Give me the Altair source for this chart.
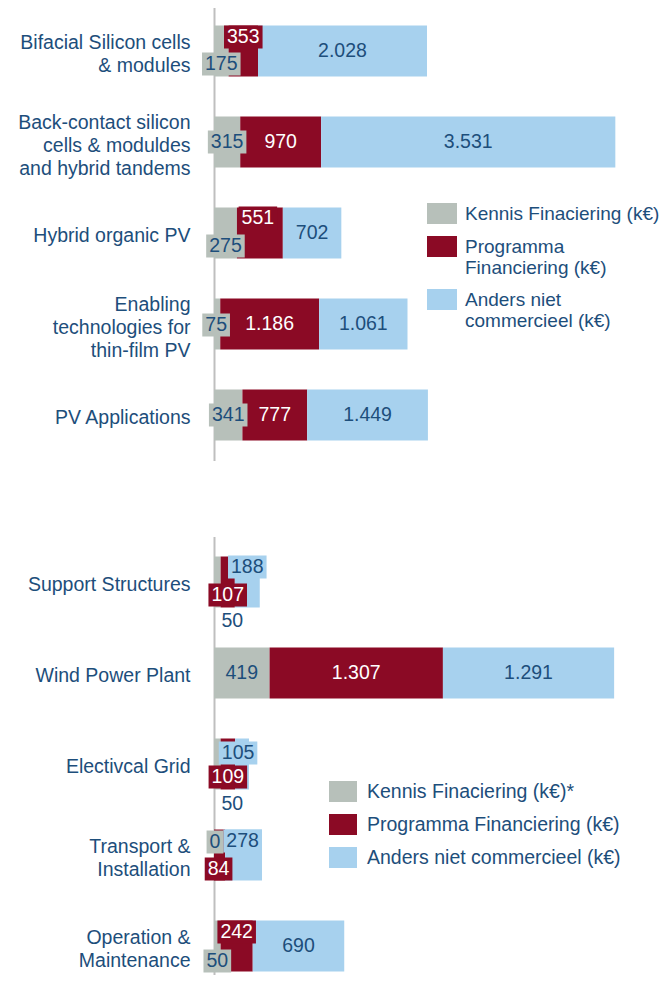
import altair as alt
import pandas as pd

FONT = "Liberation Sans"
TEXT = "#1D4E7B"
COLORS = ["#B7C0BA", "#8B0A25", "#A7D1EE"]
FS = 19.5
LFS = 19

# ---------------- data ----------------
pv_series = ["Kennis Finaciering (k€)", "Programma|Financiering (k€)", "Anders niet|commercieel (k€)"]
pv_categories = [
    "Bifacial Silicon cells|& modules",
    "Back-contact silicon|cells & moduldes|and hybrid tandems",
    "Hybrid organic PV",
    "Enabling|technologies for|thin-film PV",
    "PV Applications",
]
pv_kennis = [175, 315, 275, 75, 341]
pv_programma = [353, 970, 551, 1186, 777]
pv_anders = [2028, 3531, 702, 1061, 1449]

wind_series = ["Kennis Finaciering (k€)*", "Programma Financiering (k€)", "Anders niet commercieel (k€)"]
wind_categories = [
    "Support Structures",
    "Wind Power Plant",
    "Electivcal Grid",
    "Transport &|Installation",
    "Operation &|Maintenance",
]
wind_kennis = [50, 419, 50, 0, 50]
wind_programma = [107, 1307, 109, 84, 242]
wind_anders = [188, 1291, 105, 278, 690]

# ---------------- label placement (style) ----------------
# (panel, category index, series index) -> (dx px, dy px, boxed)
LABEL_LAYOUT = {
    ("pv", 0, 0): (0, 13, True),
    ("pv", 0, 1): (0, -14, True),
    ("pv", 1, 0): (0, 0, True),
    ("pv", 2, 0): (0, 13, True),
    ("pv", 2, 1): (-2, -15, True),
    ("pv", 3, 0): (-1, 1, True),
    ("pv", 4, 0): (0, 0, True),
    ("wind", 0, 0): (15, 39, False),
    ("wind", 0, 1): (0, 13, True),
    ("wind", 0, 2): (0, -15, True),
    ("wind", 2, 0): (15, 40, False),
    ("wind", 2, 1): (0, 13, True),
    ("wind", 2, 2): (-4, -11, True),
    ("wind", 3, 0): (1, -13, True),
    ("wind", 3, 1): (-1, 14, True),
    ("wind", 3, 2): (-1, -14, True),
    ("wind", 4, 0): (0, 15, True),
    ("wind", 4, 1): (0, -14, True),
}

# vertical placement of multi-line category labels
LABEL_OFFSET = {
    "condition": [
        {"test": "length(split(datum.value, '|')) == 3", "value": -19.5},
        {"test": "length(split(datum.value, '|')) == 2", "value": -8.5},
    ],
    "value": 2.5,
}


def fmt(v):
    return f"{v:,}".replace(",", ".")


def box_shape(text):
    w = sum(5.4 if ch == "." else 10.85 for ch in text) + 6
    k = w / 2 / 11.5
    return f"M{-k:.3f},-1H{k:.3f}V1H{-k:.3f}Z"


def panel(key, cats, series, values, xmax, width, height, legend):
    rows = []
    upp = xmax / width
    for i, c in enumerate(cats):
        start = 0
        for j, s in enumerate(series):
            v = values[j][i]
            dx, dy, boxed = LABEL_LAYOUT.get((key, i, j), (0, 0, False))
            lab = fmt(v)
            rows.append(dict(cat=c, series=s, order=j, start=start, end=start + v,
                             lx=start + v / 2 + dx * upp, dy=dy, boxed=boxed,
                             label=lab, shape=box_shape(lab)))
            start += v
    df = pd.DataFrame(rows)

    y = alt.Y("cat:N", sort=cats, title=None,
              scale=alt.Scale(paddingInner=0, paddingOuter=0),
              axis=alt.Axis(labelExpr="split(datum.label, '|')", labelFont=FONT,
                            labelFontSize=FS, labelColor=TEXT, labelPadding=24,
                            labelLineHeight=23, labelOffset=LABEL_OFFSET,
                            ticks=False, domainColor="#BFBFBF",
                            domainWidth=2, grid=False, labelLimit=300))
    xs = alt.Scale(domain=[0, xmax], nice=False, zero=True)
    base = alt.Chart(df)

    bars = base.mark_bar(size=51).encode(
        y=y,
        x=alt.X("start:Q", scale=xs, axis=None),
        x2="end:Q",
        color=alt.Color("series:N", scale=alt.Scale(domain=series, range=COLORS), legend=legend),
    )
    box_layers, text_layers = [], []
    for dy in sorted(set(int(d) for d in df["dy"])):
        box_layers.append(
            base.transform_filter(f"datum.dy == {dy} && datum.boxed").mark_point(
                filled=True, opacity=1, size=529, strokeWidth=0, yOffset=dy
            ).encode(
                y=y,
                x=alt.X("lx:Q", scale=xs, axis=None),
                shape=alt.Shape("shape:N", scale=None),
                fill=alt.Fill("series:N", scale=alt.Scale(domain=series, range=COLORS), legend=None),
            )
        )
        text_layers.append(
            base.transform_filter(f"datum.dy == {dy}").mark_text(
                font=FONT, fontSize=FS, baseline="middle", align="center", yOffset=dy
            ).encode(
                y=y,
                x=alt.X("lx:Q", scale=xs, axis=None),
                text="label:N",
                color=alt.condition("datum.order == 1", alt.value("white"), alt.value(TEXT)),
            )
        )
    return alt.layer(bars, *box_layers, *text_layers).properties(width=width, height=height)


top_legend = alt.Legend(
    title=None, orient="none", legendX=213, legendY=193,
    symbolType="M-1,-0.7H1V0.7H-1Z", symbolSize=900, symbolStrokeWidth=0,
    labelFont=FONT, labelFontSize=LFS, labelColor=TEXT,
    labelExpr="split(datum.label, '|')", labelLimit=400, labelOffset=8, rowPadding=7,
)
bottom_legend = alt.Legend(
    title=None, orient="none", legendX=115, legendY=241,
    symbolType="M-1,-0.75H1V0.75H-1Z", symbolSize=784, symbolStrokeWidth=0,
    labelFont=FONT, labelFontSize=FS, labelColor=TEXT,
    labelLimit=400, labelOffset=10, rowPadding=8,
)

top = panel("pv", pv_categories, pv_series, [pv_kennis, pv_programma, pv_anders],
            4800, 400, 455, top_legend)
bottom = panel("wind", wind_categories, wind_series, [wind_kennis, wind_programma, wind_anders],
               3016, 400, 455, bottom_legend)

chart = alt.vconcat(top, bottom, spacing=76, bounds="flush").resolve_scale(
    color="independent", fill="independent", y="independent", x="independent"
).resolve_legend(color="independent").properties(
    padding={"left": 9, "top": -2.5, "right": 0, "bottom": -17}
).configure_view(stroke=None)

chart.save("out.html", embed_options={"renderer": "svg", "actions": False})
